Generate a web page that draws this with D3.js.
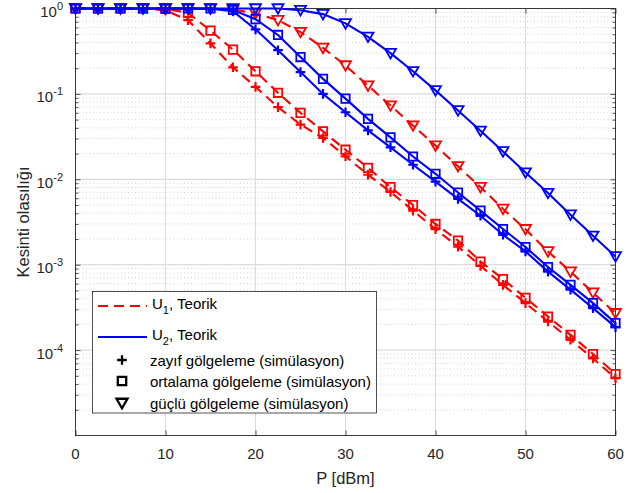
<!DOCTYPE html>
<html><head><meta charset="utf-8">
<script src="https://cdn.jsdelivr.net/npm/d3@7"></script>
<style>body{margin:0;background:#fff}svg{display:block}text{font-family:"Liberation Sans",Arial,Helvetica,sans-serif}</style>
</head><body>
<svg id="chart" width="636" height="493"></svg>
<script>
// ---- data ----
const powerDbm = [0,2.5,5,7.5,10,12.5,15,17.5,20,22.5,25,27.5,30,32.5,35,37.5,40,42.5,45,47.5,50,52.5,55,57.5,60];
const u1Weak   = [1,1,1,1,0.95,0.73,0.39,0.205,0.121,0.070,0.0437,0.0305,0.0186,0.0113,0.0071,0.0043,0.0026,0.00163,0.00097,0.00058,0.000355,0.000216,0.000132,0.00008,0.0000468];
const u1Medium = [1,1,1,1,0.99,0.89,0.55,0.33,0.184,0.103,0.060,0.0364,0.0222,0.0136,0.0081,0.0050,0.0030,0.00192,0.00109,0.00068,0.00041,0.000247,0.000151,0.00009,0.0000525];
const u1Strong = [1,1,1,1,1,1,0.995,0.97,0.88,0.73,0.53,0.346,0.215,0.125,0.073,0.0426,0.0248,0.0142,0.0081,0.0045,0.0026,0.00143,0.00083,0.00047,0.00027];
const u2Weak   = [1,1,1,1,1,1,0.995,0.93,0.57,0.325,0.18,0.10,0.061,0.0374,0.0237,0.0148,0.0094,0.0059,0.00374,0.00224,0.00143,0.00083,0.00051,0.00031,0.000186];
const u2Medium = [1,1,1,1,1,1,1,0.96,0.75,0.49,0.27,0.15,0.088,0.051,0.031,0.0185,0.0116,0.0070,0.0043,0.00262,0.00161,0.00094,0.00058,0.000355,0.000207];
const u2Strong = [1,1,1,1,1,1,1,1,1,1,0.955,0.86,0.67,0.466,0.30,0.184,0.110,0.064,0.037,0.0212,0.012,0.0069,0.00385,0.00218,0.00125];
const xTickValues = [0,10,20,30,40,50,60];
const yTickExponents = [0,-1,-2,-3,-4];
const legendLabels = ["zayıf gölgeleme (simülasyon)","ortalama gölgeleme (simülasyon)","güçlü gölgeleme (simülasyon)"];

// ---- layout ----
const L = 75.5, R = 615.5, T = 8.5, B = 435.5;
const svg = d3.select("#chart");
const x = d3.scaleLinear().domain([0,60]).range([L,R]);
const y = d3.scaleLog().domain([1e-5,1]).range([B,T]);
const axisColor = "#262626";

// grid
const g = svg.append("g");
const minorVals = [];
for (let e=-5; e<0; e++) for (let m=2; m<=9; m++) minorVals.push(m*Math.pow(10,e));
g.selectAll(".ymin").data(minorVals).join("line")
  .attr("x1",L).attr("x2",R).attr("y1",d=>y(d)).attr("y2",d=>y(d))
  .attr("stroke","#c8c8c8").attr("stroke-width",0.8).attr("stroke-dasharray","1,2.5");
g.selectAll(".ymaj").data(yTickExponents.map(e=>Math.pow(10,e))).join("line")
  .attr("x1",L).attr("x2",R).attr("y1",d=>y(d)).attr("y2",d=>y(d))
  .attr("stroke","#dcdcdc").attr("stroke-width",1.2);
g.selectAll(".xmaj").data(xTickValues).join("line")
  .attr("x1",d=>x(d)).attr("x2",d=>x(d)).attr("y1",T).attr("y2",B)
  .attr("stroke","#dcdcdc").attr("stroke-width",1);

// axes with D3
const xAxisB = d3.axisBottom(x).tickValues(xTickValues).tickSize(-5).tickSizeOuter(0).tickFormat("");
const xAxisT = d3.axisTop(x).tickValues(xTickValues).tickSize(-5).tickSizeOuter(0).tickFormat("");
const yMajor = yTickExponents.map(e=>Math.pow(10,e));
const yAxisL = d3.axisLeft(y).tickValues(yMajor).tickSize(-5).tickSizeOuter(0).tickFormat("");
const yAxisR = d3.axisRight(y).tickValues(yMajor).tickSize(-5).tickSizeOuter(0).tickFormat("");
const yMinL = d3.axisLeft(y).tickValues(minorVals).tickSize(-3).tickSizeOuter(0).tickFormat("");
const yMinR = d3.axisRight(y).tickValues(minorVals).tickSize(-3).tickSizeOuter(0).tickFormat("");
function styleAxis(sel){ sel.selectAll("path,line").attr("stroke",axisColor).attr("stroke-width",0.8); sel.select(".domain").remove(); }
svg.append("g").attr("transform",`translate(0,${B})`).call(xAxisB).call(styleAxis);
svg.append("g").attr("transform",`translate(0,${T})`).call(xAxisT).call(styleAxis);
svg.append("g").attr("transform",`translate(${L},0)`).call(yAxisL).call(styleAxis);
svg.append("g").attr("transform",`translate(${R},0)`).call(yAxisR).call(styleAxis);
svg.append("g").attr("transform",`translate(${L},0)`).call(yMinL).call(styleAxis);
svg.append("g").attr("transform",`translate(${R},0)`).call(yMinR).call(styleAxis);
svg.append("rect").attr("x",L).attr("y",T).attr("width",R-L).attr("height",B-T)
  .attr("fill","none").attr("stroke",axisColor).attr("stroke-width",0.9);

// tick labels
svg.selectAll(".xl").data(xTickValues).join("text")
  .attr("x",d=>x(d)).attr("y",459).attr("text-anchor","middle")
  .attr("font-size",15).attr("fill",axisColor).text(d=>d);
const yl = svg.selectAll(".yl").data(yTickExponents).join("text")
  .attr("x",63).attr("y",d=>y(Math.pow(10,d))+8.5).attr("text-anchor","end")
  .attr("font-size",15).attr("fill",axisColor);
yl.append("tspan").text("10");
yl.append("tspan").attr("font-size",11).attr("dy",-7).text(d=>d===0?"0":"-"+(-d));

// axis labels
svg.append("text").attr("x",(L+R)/2).attr("y",484).attr("text-anchor","middle")
  .attr("font-size",16.5).attr("fill",axisColor).text("P [dBm]");
svg.append("text").attr("transform",`translate(29,${(T+B)/2}) rotate(-90)`).attr("text-anchor","middle")
  .attr("font-size",16.5).attr("fill",axisColor).text("Kesinti olasılığı");

// markers
function markerPath(type, s){
  if (type==="plus") return `M${-s},0H${s}M0,${-s}V${s}`;
  if (type==="square") return `M${-s},${-s}H${s}V${s}H${-s}Z`;
  return `M${-s*1.1},${-s*0.85}H${s*1.1}L0,${s*1.05}Z`;
}
const series = [
  {vals:u1Weak,   color:"#ff0000", dash:"10,6", mk:"plus"},
  {vals:u1Medium, color:"#ff0000", dash:"10,6", mk:"square"},
  {vals:u1Strong, color:"#ff0000", dash:"10,6", mk:"tri"},
  {vals:u2Weak,   color:"#0000ff", dash:null, mk:"plus"},
  {vals:u2Medium, color:"#0000ff", dash:null, mk:"square"},
  {vals:u2Strong, color:"#0000ff", dash:null, mk:"tri"}
];
const line = d3.line().x((d,i)=>x(powerDbm[i])).y(d=>y(d));
const mSize = {plus:4.8, square:4.2, tri:5};
series.forEach(s=>{
  svg.append("path").datum(s.vals).attr("d",line).attr("fill","none")
    .attr("stroke",s.color).attr("stroke-width",2.1)
    .attr("stroke-dasharray",s.dash);
  svg.append("g").selectAll("path").data(s.vals).join("path")
    .attr("transform",(d,i)=>`translate(${x(powerDbm[i])},${y(d)})`)
    .attr("d",markerPath(s.mk,mSize[s.mk])).attr("fill","none")
    .attr("stroke",s.color).attr("stroke-width",s.mk==="plus"?2.2:1.8);
});

// legend
const lg = svg.append("g");
lg.append("rect").attr("x",92.5).attr("y",291.5).attr("width",284).attr("height",121.5)
  .attr("fill","#fff").attr("stroke",axisColor).attr("stroke-width",0.8);
lg.append("line").attr("x1",98).attr("x2",147).attr("y1",306).attr("y2",306)
  .attr("stroke","#ff0000").attr("stroke-width",2).attr("stroke-dasharray","10,6");
lg.append("line").attr("x1",98).attr("x2",147).attr("y1",337).attr("y2",337)
  .attr("stroke","#0000ff").attr("stroke-width",2);
[["1",308.5],["2",339.5]].forEach(([n,yy])=>{
  const t = lg.append("text").attr("x",152).attr("y",yy).attr("font-size",15).attr("fill","#000");
  t.append("tspan").text("U");
  t.append("tspan").attr("font-size",11).attr("dy",5).text(n);
  t.append("tspan").attr("dy",-5).text(", Teorik");
});
const legMk = ["plus","square","tri"];
const legY = [360,381,403];
legMk.forEach((m,i)=>{
  lg.append("path").attr("transform",`translate(122,${legY[i]})`)
    .attr("d",markerPath(m,mSize[m])).attr("fill","none").attr("stroke","#000")
    .attr("stroke-width",2.3);
  lg.append("text").attr("x",150).attr("y",legY[i]+5.5).attr("font-size",15).attr("fill","#000").text(legendLabels[i]);
});
</script>
</body></html>
